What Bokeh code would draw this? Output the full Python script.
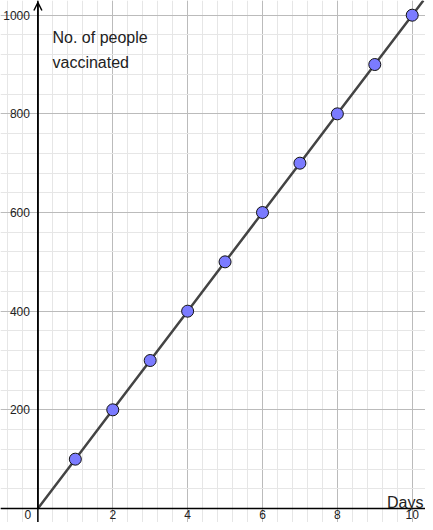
from bokeh.plotting import figure
from bokeh.models import (Range1d, Grid, SingleIntervalTicker, Span, Arrow, OpenHead,
                          Label, ColumnDataSource)
from bokeh.core.properties import value
from bokeh.embed import file_html
from bokeh.resources import INLINE

# ---- data ----
days = [1, 2, 3, 4, 5, 6, 7, 8, 9, 10]
vaccinated = [100, 200, 300, 400, 500, 600, 700, 800, 900, 1000]
x_ticks = [2, 4, 6, 8, 10]
x_tick_labels = ["2", "4", "6", "8", "10"]
y_ticks = [200, 400, 600, 800, 1000]
y_tick_labels = ["200", "400", "600", "800", "1000"]
x_label = "Days"
y_label_lines = ["No. of people", "vaccinated"]

FONT = "Liberation Sans"
TXT = "#222222"

x0, x1 = -0.9992, 10.355
y0, y1 = -28.4, 1029.8

p = figure(width=425, height=522, x_range=Range1d(x0, x1), y_range=Range1d(y0, y1),
           x_axis_type=None, y_axis_type=None, toolbar_location=None,
           output_backend="svg", min_border=0, outline_line_color=None,
           background_fill_color="white", border_fill_color="white")

# grids (major every 2 / 200, minor fifths)
p.add_layout(Grid(dimension=0, ticker=SingleIntervalTicker(interval=2, num_minor_ticks=5),
                  grid_line_color="#bbbbbb", grid_line_width=1,
                  minor_grid_line_color="#e6e6e6", minor_grid_line_width=1))
p.add_layout(Grid(dimension=1, ticker=SingleIntervalTicker(interval=200, num_minor_ticks=5),
                  grid_line_color="#bbbbbb", grid_line_width=1,
                  minor_grid_line_color="#e6e6e6", minor_grid_line_width=1))

# axes lines
p.add_layout(Span(location=0, dimension="width", line_color="black", line_width=1.5))
p.add_layout(Span(location=0, dimension="height", line_color="black", line_width=1.5))
p.add_layout(Arrow(x_start=0, y_start=0, x_end=0, y_end=1025.7,
                   line_color="black", line_width=1.5,
                   end=OpenHead(size=8, line_color="black", line_width=1.5)))

# tick labels
p.text(x=x_ticks, y=[0] * len(x_ticks), text=x_tick_labels, text_font=value(FONT),
       text_font_size="12px", text_color=TXT, text_align="center", text_baseline="top",
       y_offset=2)
p.text(x=[0] * len(y_ticks), y=y_ticks, text=y_tick_labels, text_font=value(FONT),
       text_font_size="12px", text_color=TXT, text_align="right", text_baseline="middle",
       x_offset=-8)
p.add_layout(Label(x=0, y=0, text="0", text_font=FONT, text_font_size="12px",
                   text_color=TXT, text_align="center", text_baseline="top",
                   x_offset=-10, y_offset=-2))

# axis labels
p.add_layout(Label(x=10.3, y=12.8, text=x_label, text_font=FONT, text_font_size="16px",
                   text_color=TXT, text_align="right", text_baseline="alphabetic"))
p.add_layout(Label(x=0.39, y=954.2, text=y_label_lines[0], text_font=FONT,
                   text_font_size="16px", text_color=TXT, text_baseline="alphabetic"))
p.add_layout(Label(x=0.39, y=904.8, text=y_label_lines[1], text_font=FONT,
                   text_font_size="16px", text_color=TXT, text_baseline="alphabetic"))

# line through origin and the points, extended to the top edge
rate = vaccinated[-1] / days[-1]
line_x = [0] + days + [y1 / rate]
line_y = [0] + vaccinated + [y1]
p.line(line_x, line_y, line_color="#444444", line_width=2.5)

src = ColumnDataSource(dict(x=days, y=vaccinated))
p.scatter("x", "y", source=src, size=12, fill_color="#7b7bff", line_color="#111111",
          line_width=1)

open("out.html", "w").write(file_html(p, INLINE))
